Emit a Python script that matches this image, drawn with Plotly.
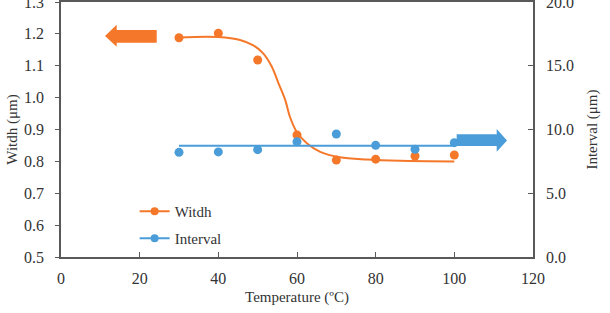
import plotly.graph_objects as go

# ---- data ----
temperature = [30, 40, 50, 60, 70, 80, 90, 100]
width_um = [1.188, 1.202, 1.118, 0.883, 0.804, 0.807, 0.817, 0.820]
interval_um = [8.21, 8.24, 8.42, 9.04, 9.65, 8.76, 8.45, 8.97]

# fitted (sigmoid-like) width curve
width_fit_x = [30, 40, 45.5, 48.9, 51.4, 53.6, 55.3, 57.0, 58.2, 59.9, 62.5, 65.9, 70.9, 77.7, 86.2, 100]
width_fit_y = [1.189, 1.190, 1.181, 1.164, 1.139, 1.097, 1.045, 0.993, 0.940, 0.893, 0.857, 0.830, 0.813, 0.806, 0.802, 0.800]

# horizontal fit of interval
interval_fit_x = [30, 100]
interval_fit_y = [8.73, 8.73]

x_ticks = [0, 20, 40, 60, 80, 100, 120]

ORANGE = "#F5782A"
BLUE = "#4A9DD8"
AXIS = "#595959"
TEXT = "#333333"
FONT = "Liberation Serif, Times New Roman, serif"

fig = go.Figure()

fig.add_trace(go.Scatter(x=width_fit_x, y=width_fit_y, mode="lines",
                         line=dict(color=ORANGE, width=2, shape="spline", smoothing=0.9),
                         showlegend=False, hoverinfo="skip"))
fig.add_trace(go.Scatter(x=temperature, y=width_um, mode="markers",
                         marker=dict(color=ORANGE, size=9), showlegend=False))
fig.add_trace(go.Scatter(x=interval_fit_x, y=interval_fit_y, mode="lines", yaxis="y2",
                         line=dict(color=BLUE, width=2), showlegend=False, hoverinfo="skip"))
fig.add_trace(go.Scatter(x=temperature, y=interval_um, mode="markers", yaxis="y2",
                         marker=dict(color=BLUE, size=9), showlegend=False))

# legend entries
fig.add_trace(go.Scatter(x=[None], y=[None], mode="lines+markers", name="Witdh",
                         line=dict(color=ORANGE, width=2), marker=dict(color=ORANGE, size=8),
                         legend="legend"))
fig.add_trace(go.Scatter(x=[None], y=[None], mode="lines+markers", name="Interval",
                         line=dict(color=BLUE, width=2), marker=dict(color=BLUE, size=8),
                         legend="legend2"))

# block arrows
orange_arrow = ("M 11.19,1.1933 L 14.16,1.2288 L 14.16,1.2122 L 24.33,1.2122 "
                "L 24.33,1.1723 L 14.16,1.1723 L 14.16,1.1598 Z")
blue_arrow = ("M 113.4,9.14 L 110.77,10.04 L 110.77,9.62 L 100.6,9.62 "
              "L 100.6,8.71 L 110.77,8.71 L 110.77,8.26 Z")
fig.add_shape(type="path", path=orange_arrow, xref="x", yref="y",
              fillcolor=ORANGE, line=dict(width=0))
fig.add_shape(type="path", path=blue_arrow, xref="x", yref="y2",
              fillcolor=BLUE, line=dict(width=0))

fig.update_layout(
    width=610, height=313,
    margin=dict(l=61, r=77, t=2, b=56, autoexpand=False),
    paper_bgcolor="white", plot_bgcolor="white",
    font=dict(family=FONT, size=16, color=TEXT),
    xaxis=dict(range=[0, 120], tickvals=x_ticks, showgrid=False, zeroline=False,
               showline=True, linecolor=AXIS, linewidth=1.5, mirror=True,
               ticks="inside", ticklen=5, tickcolor=AXIS, ticklabelstandoff=6,
               ticklabeloverflow="allow", automargin=False,
               title=dict(text="Temperature (ºC)", standoff=6, font=dict(size=15))),
    yaxis=dict(range=[0.5, 1.3], dtick=0.1, tickformat=".1f", showgrid=False, zeroline=False,
               showline=True, linecolor=AXIS, linewidth=1.5,
               ticks="outside", ticklen=4, tickcolor=AXIS, ticklabelstandoff=8,
               ticklabeloverflow="allow", automargin=False,
               title=dict(text="Witdh (μm)", standoff=3, font=dict(size=15))),
    yaxis2=dict(range=[0, 20], dtick=5, tickformat=".1f", overlaying="y", side="right",
                showgrid=False, zeroline=False, showline=True, linecolor=AXIS, linewidth=1.5,
                ticks="inside", ticklen=5, tickcolor=AXIS, ticklabelstandoff=8,
                ticklabeloverflow="allow", automargin=False,
                title=dict(text="Interval (μm)", standoff=14, font=dict(size=15))),
    legend=dict(x=0.156, y=0.178, xanchor="left", yanchor="middle",
                bgcolor="rgba(0,0,0,0)", font=dict(size=15)),
    legend2=dict(x=0.156, y=0.073, xanchor="left", yanchor="middle",
                 bgcolor="rgba(0,0,0,0)", font=dict(size=15)),
)

fig.write_html("out.html")
